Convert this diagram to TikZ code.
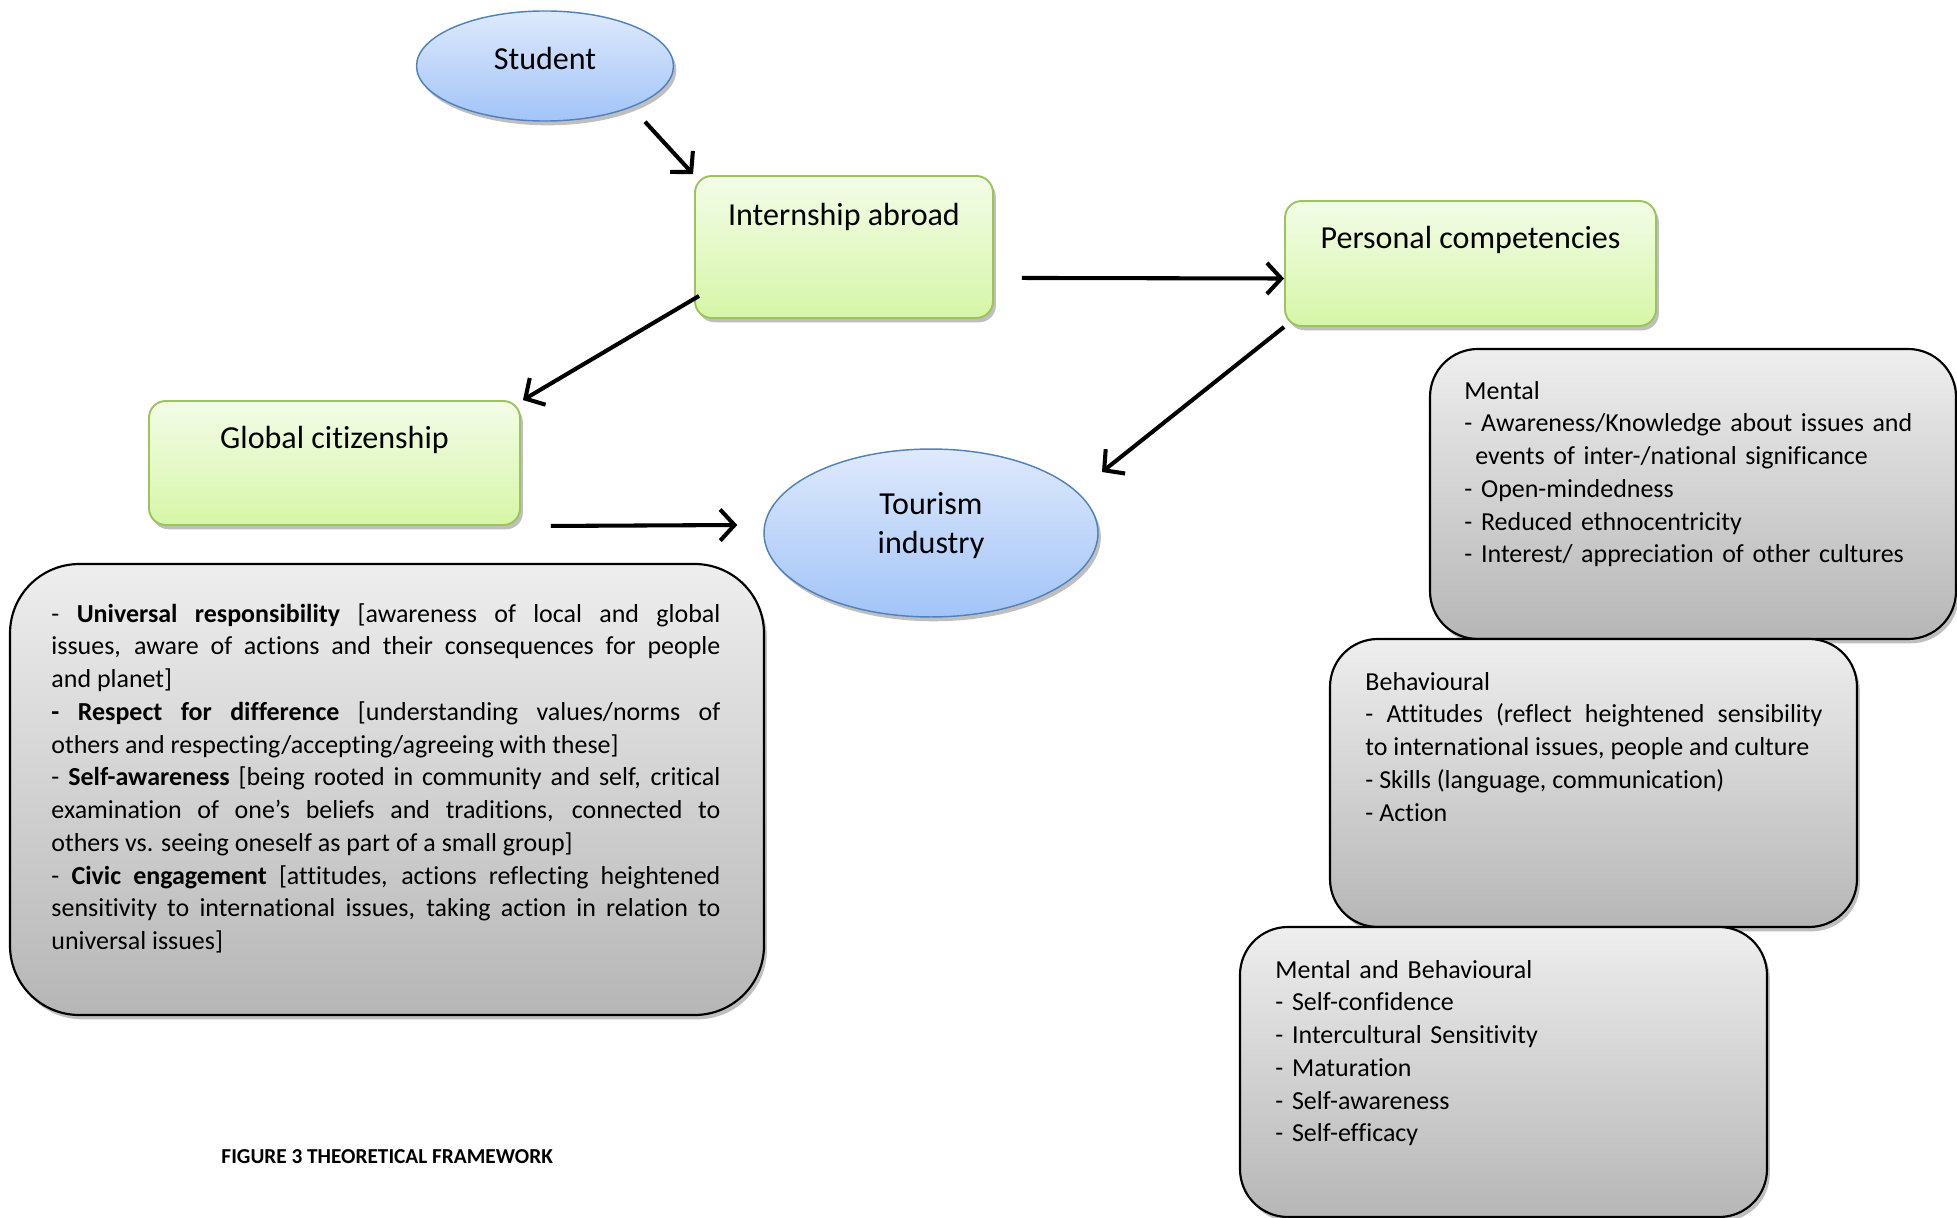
\documentclass[tikz,border=0pt]{standalone}
\usepackage{fontspec}
\setmainfont{Carlito}[Ligatures=NoCommon]
\usetikzlibrary{arrows.meta,shapes.geometric,shadows,calc,fit}
\setlength{\parindent}{0pt}
\definecolor{greentop}{RGB}{243,252,232}
\definecolor{greenbot}{RGB}{214,246,166}
\definecolor{greenedge}{RGB}{155,197,90}
\definecolor{bluetop}{RGB}{222,233,252}
\definecolor{bluebot}{RGB}{162,196,248}
\definecolor{blueedge}{RGB}{79,129,189}
\definecolor{graytop}{RGB}{238,238,238}
\definecolor{graybot}{RGB}{182,182,182}
\tikzset{
  softshadow/.style={drop shadow={shadow xshift=1.2pt, shadow yshift=-1.8pt, opacity=0.25, fill=black}},
  greenbox/.style={draw=greenedge, line width=0.8pt, rounded corners=7pt, top color=greentop, bottom color=greenbot, softshadow, inner sep=0pt},
  blueell/.style={ellipse, draw=blueedge, line width=0.6pt, top color=bluetop, bottom color=bluebot, softshadow, inner sep=0pt},
  graybox/.style={draw=black, line width=0.9pt, top color=graytop, bottom color=graybot, softshadow, inner sep=0pt},
  titletext/.style={font=\fontsize{13.4pt}{16.2pt}\selectfont, inner sep=0pt},
  bodytext/.style={font=\fontsize{10.85pt}{13.7pt}\selectfont, inner sep=0pt},
  arr/.style={line width=1.7pt, -{Straight Barb[length=6pt, width=13pt]}},
}
\begin{document}
\begin{tikzpicture}[x=0.418pt, y=-0.418pt]
\useasboundingbox (0,0) rectangle (1957,1218);

% ellipses
\node[blueell, minimum width=107.4pt, minimum height=46pt] (student) at (545,66) {};
\node[titletext, anchor=base] (studentlabel) at (545,70) {Student};

\node[blueell, minimum width=139.6pt, minimum height=70.2pt] (tourism) at (931,533) {};
\node[titletext, anchor=base, align=center] (tourismlabel) at (931,553) {Tourism\\industry};

% green boxes
\node[greenbox, fit={(695,176) (993,318)}] (intern) {};
\node[titletext, anchor=base] (internlabel) at ($(intern.north)+(0,50)$) {Internship abroad};

\node[greenbox, fit={(1285,201) (1656,326)}] (personal) {};
\node[titletext, anchor=base] (personallabel) at ($(personal.north)+(0,48)$) {Personal competencies};

\node[greenbox, fit={(149,401) (520,525)}] (global) {};
\node[titletext, anchor=base] (globallabel) at ($(global.north)+(0,48)$) {Global citizenship};

% gray boxes
\node[graybox, rounded corners=29pt, fit={(10,564) (764,1015)}] (gcbox) {};
\node[bodytext, text width=279.6pt, align=justify, anchor=base west] (gctext) at (51,622) {%
- \textbf{Universal responsibility} [awareness of local and global\break issues, aware of actions and their consequences for people\break and planet]\par
\textbf{- Respect for difference} [understanding values/norms of\break others and respecting/accepting/agreeing with these]\par
- \textbf{Self-awareness} [being rooted in community and self, critical\break examination of one’s beliefs and traditions, connected to\break others vs. seeing oneself as part of a small group]\par
- \textbf{Civic engagement} [attitudes, actions reflecting heightened\break sensitivity to international issues, taking action in relation to\break universal issues]};

\node[graybox, rounded corners=20pt, fit={(1430,349) (1956,639)}] (mentalbox) {};
\node[bodytext, text width=205pt, align=left, anchor=base west] (mentaltext) at (1464,399) {Mental\\- Awareness/Knowledge about issues and\\\hspace*{4.5pt}events of inter-/national significance\\- Open-mindedness\\- Reduced ethnocentricity\\- Interest/ appreciation of other cultures};

\node[graybox, rounded corners=20pt, fit={(1330,639) (1857,927)}] (behavbox) {};
\node[bodytext, text width=191pt, align=justify, anchor=base west] (behavtext) at (1365,690) {Behavioural\par
- Attitudes (reflect heightened sensibility\break to international issues, people and culture\par
- Skills (language, communication)\par
- Action};

\node[graybox, rounded corners=20pt, fit={(1240,927) (1767,1217)}] (mbbox) {};
\node[bodytext, text width=200pt, align=left, anchor=base west] (mbtext) at (1275,978) {Mental and Behavioural\\- Self-confidence\\- Intercultural Sensitivity\\- Maturation\\- Self-awareness\\- Self-efficacy};

% caption
\node[font=\bfseries\fontsize{8.9pt}{11pt}\selectfont, inner sep=0pt, anchor=base west] (caption) at (221,1163) {FIGURE 3 THEORETICAL FRAMEWORK};

% connectors
\draw[arr] ($(student.south)+(100,0)$) -- ($(intern.north west)+(-1,-1)$);
\draw[arr] ($(intern.south east)+(28,-41)$) -- ($(personal.west)+(0,15)$);
\draw[arr] ($(intern.south west)+(5,-23)$) -- ($(global.north east)+(2,0)$);
\draw[arr] ($(global.south east)+(30,0)$) -- ($(tourism.west)+(-26,-8)$);
\draw[arr] (personal.south west) -- ($(tourism.center)+(171,-61)$);
\end{tikzpicture}
\end{document}
